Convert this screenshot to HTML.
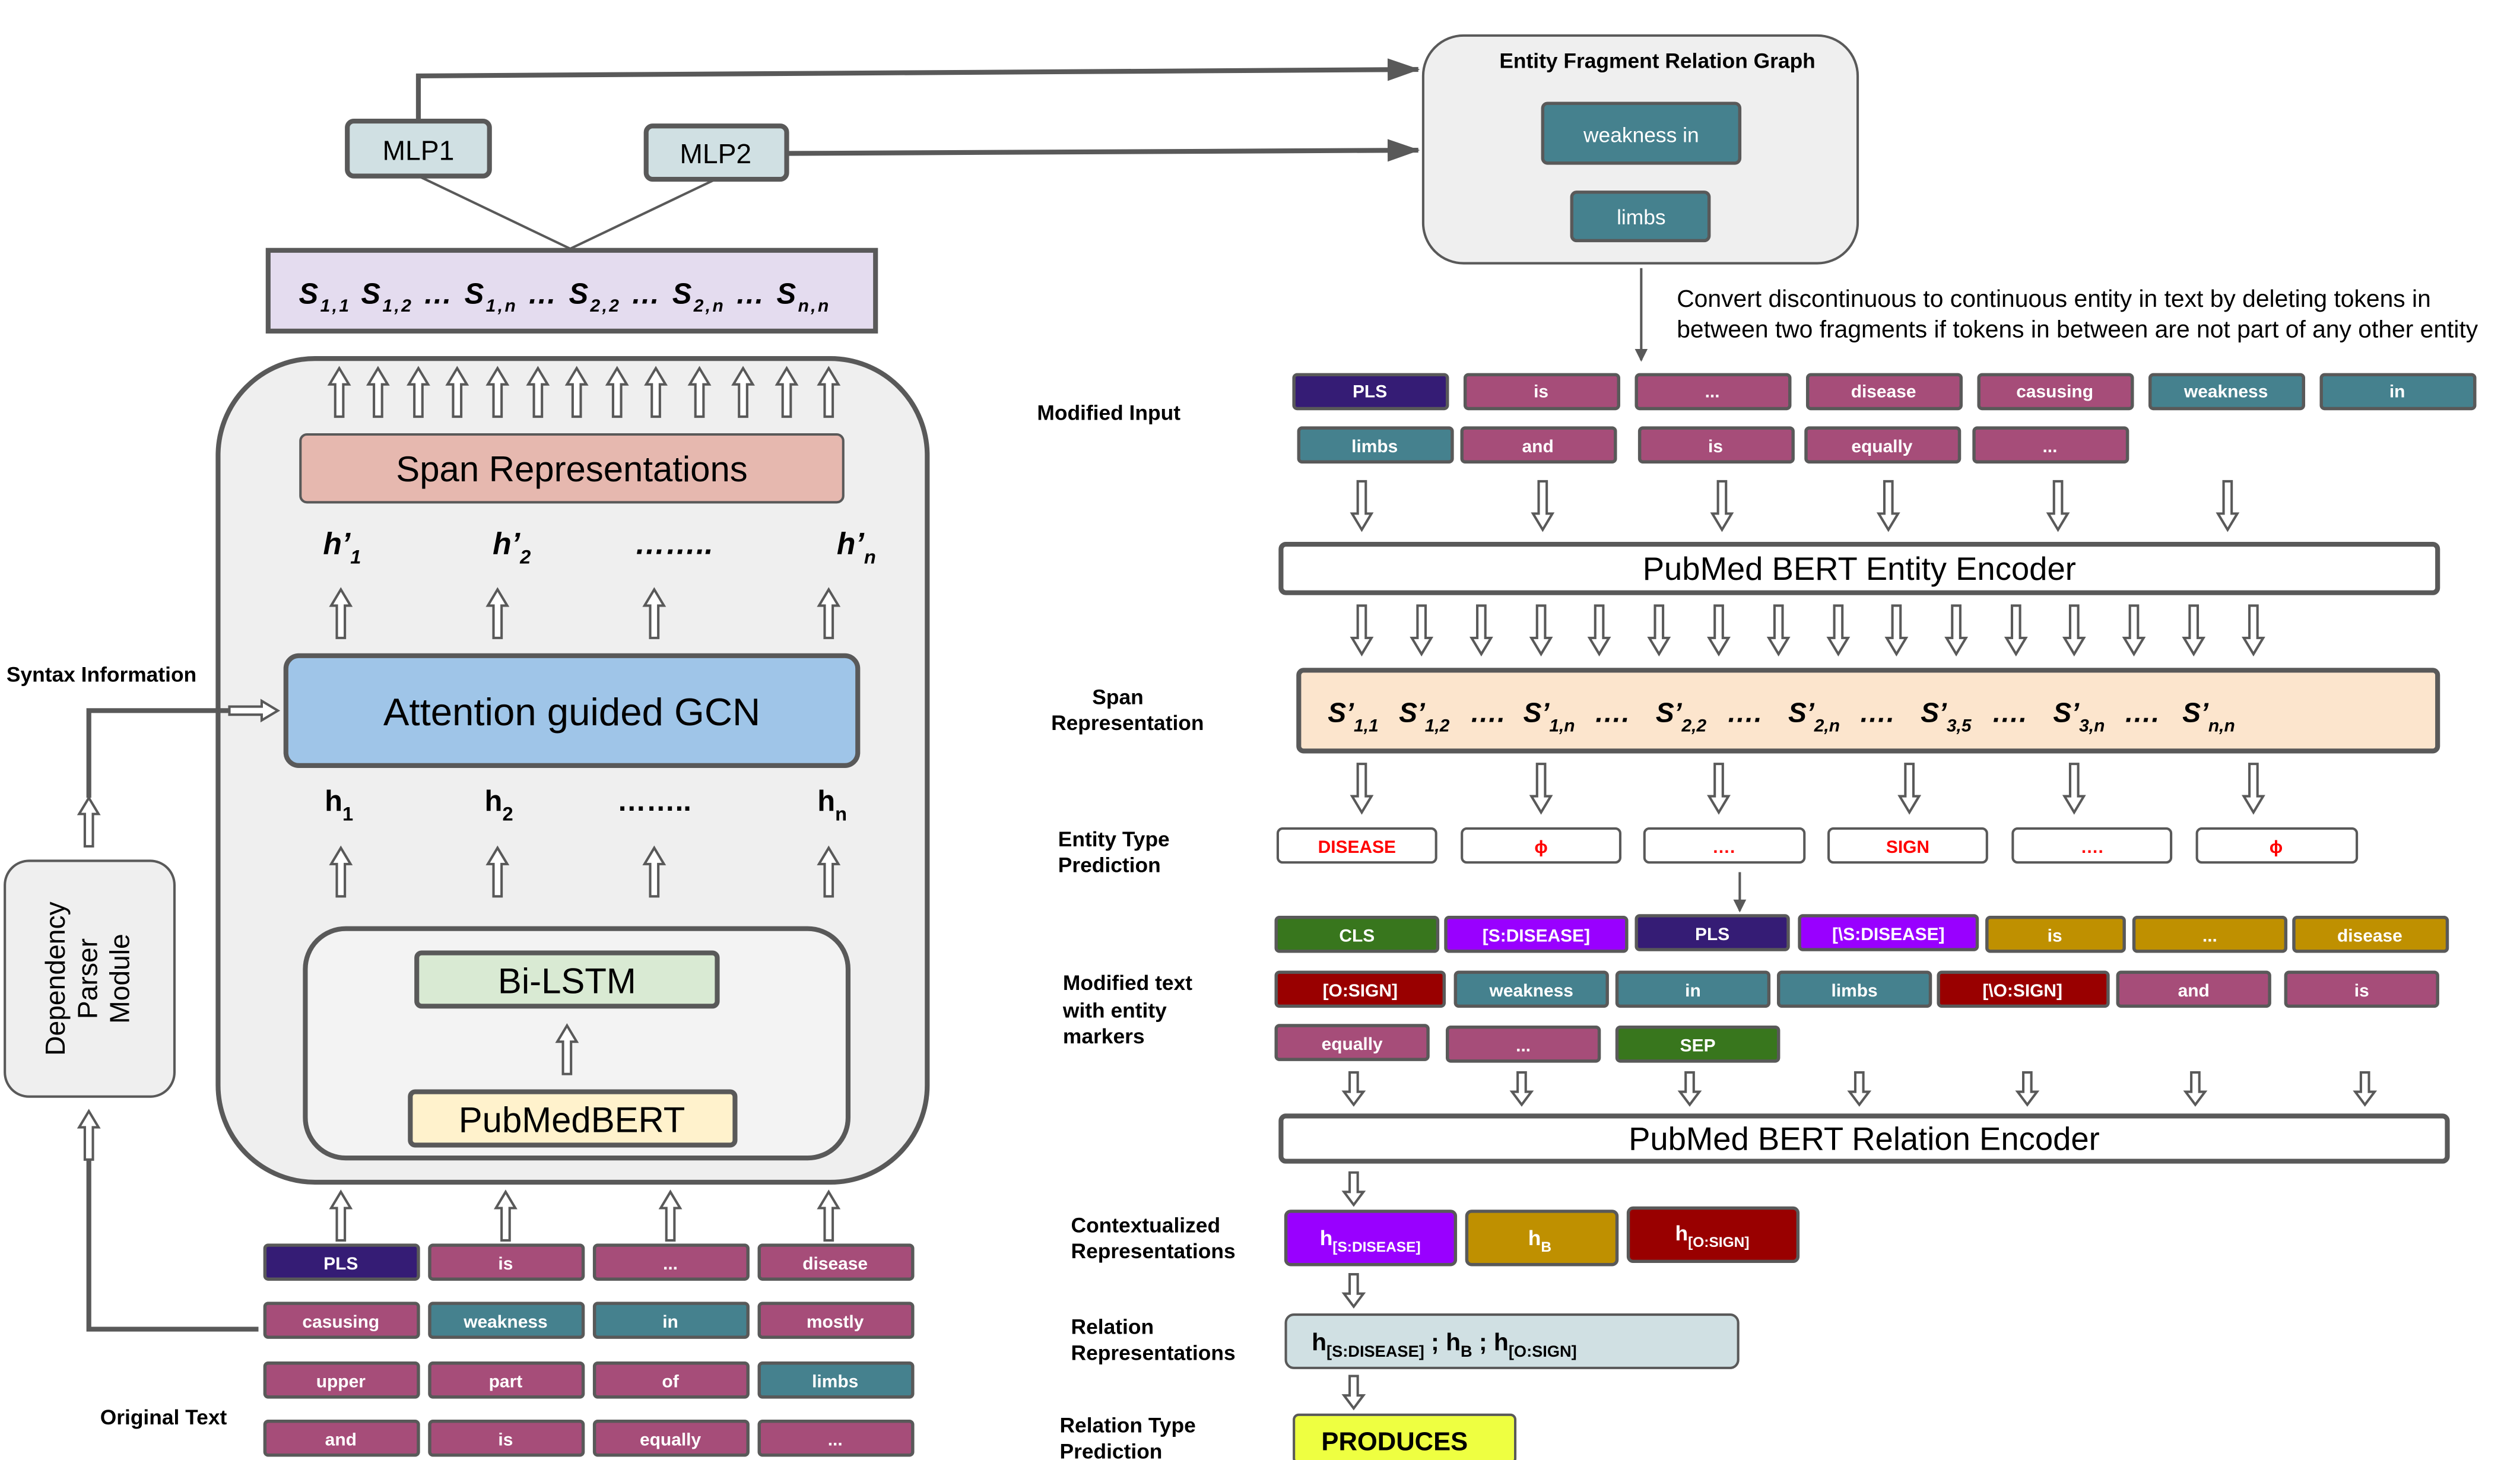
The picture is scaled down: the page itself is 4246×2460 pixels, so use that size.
<!DOCTYPE html>
<html><head><meta charset="utf-8"><style>
html,body{margin:0;padding:0;background:#fff;}
svg{display:block;}
text{font-family:"Liberation Sans",Arial,sans-serif;}
.t{fill:#fff;font-size:11px;font-weight:bold;text-anchor:middle;}
.lb{font-size:13px;font-weight:bold;fill:#000;}
</style></head><body>
<svg width="4246" height="2460" viewBox="0 0 1560 904" preserveAspectRatio="none" xmlns="http://www.w3.org/2000/svg">
<defs>
<g id="ua"><path d="M-2.5,30 L-2.5,10 L-6,10 L0,0 L6,10 L2.5,10 L2.5,30 Z" fill="#fff" stroke="#595959" stroke-width="1.5"/></g>
<g id="da"><path d="M-2.5,0 L-2.5,20 L-6,20 L0,30 L6,20 L2.5,20 L2.5,0 Z" fill="#fff" stroke="#595959" stroke-width="1.5"/></g>
<g id="da2"><path d="M-2.5,0 L-2.5,12 L-6,12 L0,20 L6,12 L2.5,12 L2.5,0 Z" fill="#fff" stroke="#595959" stroke-width="1.5"/></g>
<marker id="ah" markerWidth="8" markerHeight="8" refX="7" refY="4" orient="auto" markerUnits="userSpaceOnUse"><path d="M0,0 L8,4 L0,8 Z" fill="#595959"/></marker>
<marker id="ah2" markerWidth="20" markerHeight="14" refX="19" refY="7" orient="auto" markerUnits="userSpaceOnUse"><path d="M0,0 L20,7 L0,14 Z" fill="#595959"/></marker>
</defs>

<polyline points="259,75 259,47 878,43" fill="none" stroke="#595959" stroke-width="3" marker-end="url(#ah2)"/>
<line x1="487" y1="95" x2="878" y2="93" stroke="#595959" stroke-width="3" marker-end="url(#ah2)"/>
<line x1="259" y1="109" x2="353" y2="154" stroke="#595959" stroke-width="1.5"/>
<line x1="443" y1="111" x2="353" y2="154" stroke="#595959" stroke-width="1.5"/>
<rect x="215" y="75" width="88" height="34" rx="4" fill="#d0e0e3" stroke="#595959" stroke-width="3"/>
<text x="259" y="99" font-size="17" text-anchor="middle">MLP1</text>
<rect x="400" y="78" width="87" height="33" rx="4" fill="#d0e0e3" stroke="#595959" stroke-width="3"/>
<text x="443" y="101" font-size="17" text-anchor="middle">MLP2</text>

<rect x="166" y="155" width="376" height="50" fill="#e4dcef" stroke="#595959" stroke-width="3"/>
<text x="185" y="188" font-size="18" font-weight="bold" font-style="italic" textLength="328" lengthAdjust="spacing">S<tspan font-size="11" dy="5">1,1</tspan><tspan dy="-5"> S</tspan><tspan font-size="11" dy="5">1,2</tspan><tspan dy="-5"> … S</tspan><tspan font-size="11" dy="5">1,n</tspan><tspan dy="-5"> … S</tspan><tspan font-size="11" dy="5">2,2</tspan><tspan dy="-5"> … S</tspan><tspan font-size="11" dy="5">2,n</tspan><tspan dy="-5"> … S</tspan><tspan font-size="11" dy="5">n,n</tspan></text>

<rect x="135" y="222" width="439" height="510" rx="60" fill="#efefef" stroke="#595959" stroke-width="3"/>
<g>
<use href="#ua" x="210" y="228"/><use href="#ua" x="234" y="228"/><use href="#ua" x="259" y="228"/><use href="#ua" x="283" y="228"/><use href="#ua" x="308" y="228"/><use href="#ua" x="333" y="228"/><use href="#ua" x="357" y="228"/><use href="#ua" x="382" y="228"/><use href="#ua" x="406" y="228"/><use href="#ua" x="433" y="228"/><use href="#ua" x="460" y="228"/><use href="#ua" x="487" y="228"/><use href="#ua" x="513" y="228"/>
</g>
<rect x="186" y="269" width="336" height="42" rx="4" fill="#e6b8af" stroke="#595959" stroke-width="1.5"/>
<text x="354" y="298" font-size="22" text-anchor="middle">Span Representations</text>
<g font-size="19" font-weight="bold" font-style="italic">
<text x="200" y="343">h’<tspan font-size="12" dy="6">1</tspan></text>
<text x="305" y="343">h’<tspan font-size="12" dy="6">2</tspan></text>
<text x="393" y="343">……..</text>
<text x="518" y="343">h’<tspan font-size="12" dy="6">n</tspan></text>
</g>
<use href="#ua" x="211" y="365"/><use href="#ua" x="308" y="365"/><use href="#ua" x="405" y="365"/><use href="#ua" x="513" y="365"/>
<rect x="177" y="406" width="354" height="68" rx="8" fill="#9fc5e8" stroke="#595959" stroke-width="3"/>
<text x="354" y="449" font-size="24" text-anchor="middle">Attention guided GCN</text>
<g font-size="18" font-weight="bold">
<text x="201" y="502">h<tspan font-size="12" dy="6">1</tspan></text>
<text x="300" y="502">h<tspan font-size="12" dy="6">2</tspan></text>
<text x="382" y="502">……..</text>
<text x="506" y="502">h<tspan font-size="12" dy="6">n</tspan></text>
</g>
<use href="#ua" x="211" y="525"/><use href="#ua" x="308" y="525"/><use href="#ua" x="405" y="525"/><use href="#ua" x="513" y="525"/>
<rect x="189" y="575" width="336" height="142" rx="25" fill="#f3f3f3" stroke="#595959" stroke-width="3"/>
<rect x="258" y="590" width="186" height="33" rx="3" fill="#d9ead3" stroke="#595959" stroke-width="3"/>
<text x="351" y="615" font-size="22" text-anchor="middle">Bi-LSTM</text>
<use href="#ua" x="351" y="635"/>
<rect x="254" y="676" width="201" height="33" rx="3" fill="#fff2cc" stroke="#595959" stroke-width="3"/>
<text x="354" y="701" font-size="22" text-anchor="middle">PubMedBERT</text>
<use href="#ua" x="211" y="738"/><use href="#ua" x="313" y="738"/><use href="#ua" x="415" y="738"/><use href="#ua" x="513" y="738"/>

<g stroke="#595959" stroke-width="2">
<rect x="164" y="771" width="95" height="21" rx="2" fill="#351c75"/><rect x="266" y="771" width="95" height="21" rx="2" fill="#a64d79"/><rect x="368" y="771" width="95" height="21" rx="2" fill="#a64d79"/><rect x="470" y="771" width="95" height="21" rx="2" fill="#a64d79"/>
<rect x="164" y="807" width="95" height="21" rx="2" fill="#a64d79"/><rect x="266" y="807" width="95" height="21" rx="2" fill="#45818e"/><rect x="368" y="807" width="95" height="21" rx="2" fill="#45818e"/><rect x="470" y="807" width="95" height="21" rx="2" fill="#a64d79"/>
<rect x="164" y="844" width="95" height="21" rx="2" fill="#a64d79"/><rect x="266" y="844" width="95" height="21" rx="2" fill="#a64d79"/><rect x="368" y="844" width="95" height="21" rx="2" fill="#a64d79"/><rect x="470" y="844" width="95" height="21" rx="2" fill="#45818e"/>
<rect x="164" y="880" width="95" height="21" rx="2" fill="#a64d79"/><rect x="266" y="880" width="95" height="21" rx="2" fill="#a64d79"/><rect x="368" y="880" width="95" height="21" rx="2" fill="#a64d79"/><rect x="470" y="880" width="95" height="21" rx="2" fill="#a64d79"/>
</g>
<g class="t">
<text x="211" y="786">PLS</text><text x="313" y="786">is</text><text x="415" y="786">...</text><text x="517" y="786">disease</text>
<text x="211" y="822">casusing</text><text x="313" y="822">weakness</text><text x="415" y="822">in</text><text x="517" y="822">mostly</text>
<text x="211" y="859">upper</text><text x="313" y="859">part</text><text x="415" y="859">of</text><text x="517" y="859">limbs</text>
<text x="211" y="895">and</text><text x="313" y="895">is</text><text x="415" y="895">equally</text><text x="517" y="895">...</text>
</g>
<text x="62" y="882" class="lb">Original Text</text>

<rect x="3" y="533" width="105" height="146" rx="15" fill="#efefef" stroke="#595959" stroke-width="1.5"/>
<g transform="translate(56,606) rotate(-90)" font-size="17" text-anchor="middle">
<text x="0" y="-16">Dependency</text><text x="0" y="4">Parser</text><text x="0" y="24">Module</text>
</g>
<polyline points="160,823 55,823 55,715" fill="none" stroke="#595959" stroke-width="3"/>
<use href="#ua" x="55" y="688"/>
<use href="#ua" x="55" y="494"/>
<polyline points="55,494 55,440 142,440" fill="none" stroke="#595959" stroke-width="3"/>
<path d="M142,437.5 L162,437.5 L162,434 L172,440 L162,446 L162,442.5 L142,442.5 Z" fill="#fff" stroke="#595959" stroke-width="1.5"/>
<text x="4" y="422" class="lb">Syntax  Information</text>

<rect x="881" y="22" width="269" height="141" rx="25" fill="#efefef" stroke="#595959" stroke-width="1.5"/>
<text x="1026" y="42" class="lb" text-anchor="middle">Entity Fragment Relation Graph</text>
<rect x="955" y="64" width="122" height="37" rx="3" fill="#45818e" stroke="#595959" stroke-width="2"/>
<text x="1016" y="88" font-size="13" fill="#fff" text-anchor="middle">weakness in</text>
<rect x="973" y="119" width="85" height="30" rx="3" fill="#45818e" stroke="#595959" stroke-width="2"/>
<text x="1016" y="139" font-size="13" fill="#fff" text-anchor="middle">limbs</text>
<line x1="1016" y1="166" x2="1016" y2="223" stroke="#595959" stroke-width="1.5" marker-end="url(#ah)"/>
<text x="1038" y="190" font-size="15">Convert discontinuous to continuous entity in text by deleting tokens in</text>
<text x="1038" y="209" font-size="15">between two fragments if tokens in between are not part of any other entity</text>

<text x="642" y="260" class="lb">Modified Input</text>
<g stroke="#595959" stroke-width="2">
<rect x="801" y="232" width="95" height="21" rx="2" fill="#351c75"/><rect x="907" y="232" width="95" height="21" rx="2" fill="#a64d79"/><rect x="1013" y="232" width="95" height="21" rx="2" fill="#a64d79"/><rect x="1119" y="232" width="95" height="21" rx="2" fill="#a64d79"/><rect x="1225" y="232" width="95" height="21" rx="2" fill="#a64d79"/><rect x="1331" y="232" width="95" height="21" rx="2" fill="#45818e"/><rect x="1437" y="232" width="95" height="21" rx="2" fill="#45818e"/>
<rect x="804" y="265" width="95" height="21" rx="2" fill="#45818e"/><rect x="905" y="265" width="95" height="21" rx="2" fill="#a64d79"/><rect x="1015" y="265" width="95" height="21" rx="2" fill="#a64d79"/><rect x="1118" y="265" width="95" height="21" rx="2" fill="#a64d79"/><rect x="1222" y="265" width="95" height="21" rx="2" fill="#a64d79"/>
</g>
<g class="t">
<text x="848" y="246">PLS</text><text x="954" y="246">is</text><text x="1060" y="246">...</text><text x="1166" y="246">disease</text><text x="1272" y="246">casusing</text><text x="1378" y="246">weakness</text><text x="1484" y="246">in</text>
<text x="851" y="280">limbs</text><text x="952" y="280">and</text><text x="1062" y="280">is</text><text x="1165" y="280">equally</text><text x="1269" y="280">...</text>
</g>
<use href="#da" x="843" y="298"/><use href="#da" x="955" y="298"/><use href="#da" x="1066" y="298"/><use href="#da" x="1169" y="298"/><use href="#da" x="1274" y="298"/><use href="#da" x="1379" y="298"/>
<rect x="793" y="337" width="716" height="30" rx="3" fill="#fff" stroke="#595959" stroke-width="3"/>
<text x="1151" y="359" font-size="20" text-anchor="middle">PubMed BERT Entity Encoder</text>
<g>
<use href="#da" x="843" y="375"/><use href="#da" x="880" y="375"/><use href="#da" x="917" y="375"/><use href="#da" x="954" y="375"/><use href="#da" x="990" y="375"/><use href="#da" x="1027" y="375"/><use href="#da" x="1064" y="375"/><use href="#da" x="1101" y="375"/><use href="#da" x="1138" y="375"/><use href="#da" x="1174" y="375"/><use href="#da" x="1211" y="375"/><use href="#da" x="1248" y="375"/><use href="#da" x="1284" y="375"/><use href="#da" x="1321" y="375"/><use href="#da" x="1358" y="375"/><use href="#da" x="1395" y="375"/>
</g>
<rect x="804" y="415" width="705" height="50" rx="3" fill="#fce5cd" stroke="#595959" stroke-width="3"/>
<g font-size="17" font-weight="bold" font-style="italic">
<text x="822" y="447">S’<tspan font-size="11" dy="6">1,1</tspan></text>
<text x="866" y="447">S’<tspan font-size="11" dy="6">1,2</tspan></text>
<text x="910" y="447">….</text>
<text x="943" y="447">S’<tspan font-size="11" dy="6">1,n</tspan></text>
<text x="987" y="447">….</text>
<text x="1025" y="447">S’<tspan font-size="11" dy="6">2,2</tspan></text>
<text x="1069" y="447">….</text>
<text x="1107" y="447">S’<tspan font-size="11" dy="6">2,n</tspan></text>
<text x="1151" y="447">….</text>
<text x="1189" y="447">S’<tspan font-size="11" dy="6">3,5</tspan></text>
<text x="1233" y="447">….</text>
<text x="1271" y="447">S’<tspan font-size="11" dy="6">3,n</tspan></text>
<text x="1315" y="447">….</text>
<text x="1351" y="447">S’<tspan font-size="11" dy="6">n,n</tspan></text>
</g>
<text x="692" y="436" class="lb" text-anchor="middle">Span</text>
<text x="698" y="452" class="lb" text-anchor="middle">Representation</text>
<use href="#da" x="843" y="473"/><use href="#da" x="954" y="473"/><use href="#da" x="1064" y="473"/><use href="#da" x="1182" y="473"/><use href="#da" x="1284" y="473"/><use href="#da" x="1395" y="473"/>
<g fill="#fff" stroke="#595959" stroke-width="1.5">
<rect x="791" y="513" width="98" height="21" rx="3"/><rect x="905" y="513" width="98" height="21" rx="3"/><rect x="1018" y="513" width="99" height="21" rx="3"/><rect x="1132" y="513" width="98" height="21" rx="3"/><rect x="1246" y="513" width="98" height="21" rx="3"/><rect x="1360" y="513" width="99" height="21" rx="3"/>
</g>
<g font-size="11" fill="#ff0000" font-weight="bold" text-anchor="middle">
<text x="840" y="528">DISEASE</text><text x="954" y="528">ϕ</text><text x="1067" y="528">….</text><text x="1181" y="528">SIGN</text><text x="1295" y="528">….</text><text x="1409" y="528">ϕ</text>
</g>
<text x="655" y="524" class="lb">Entity Type</text>
<text x="655" y="540" class="lb">Prediction</text>
<line x1="1077" y1="540" x2="1077" y2="564" stroke="#595959" stroke-width="1.5" marker-end="url(#ah)"/>

<g stroke="#595959" stroke-width="2">
<rect x="790" y="568" width="100" height="21" rx="2" fill="#38761d"/><rect x="895" y="568" width="112" height="21" rx="2" fill="#9900ff"/><rect x="1013" y="567" width="94" height="21" rx="2" fill="#351c75"/><rect x="1114" y="567" width="110" height="21" rx="2" fill="#9900ff"/><rect x="1230" y="568" width="85" height="21" rx="2" fill="#bf9000"/><rect x="1321" y="568" width="94" height="21" rx="2" fill="#bf9000"/><rect x="1420" y="568" width="95" height="21" rx="2" fill="#bf9000"/>
<rect x="790" y="602" width="104" height="21" rx="2" fill="#990000"/><rect x="901" y="602" width="94" height="21" rx="2" fill="#45818e"/><rect x="1001" y="602" width="94" height="21" rx="2" fill="#45818e"/><rect x="1101" y="602" width="94" height="21" rx="2" fill="#45818e"/><rect x="1200" y="602" width="105" height="21" rx="2" fill="#990000"/><rect x="1311" y="602" width="94" height="21" rx="2" fill="#a64d79"/><rect x="1415" y="602" width="94" height="21" rx="2" fill="#a64d79"/>
<rect x="790" y="635" width="94" height="21" rx="2" fill="#a64d79"/><rect x="896" y="636" width="94" height="21" rx="2" fill="#a64d79"/><rect x="1001" y="636" width="100" height="21" rx="2" fill="#38761d"/>
</g>
<g class="t">
<text x="840" y="583">CLS</text><text x="951" y="583">[S:DISEASE]</text><text x="1060" y="582">PLS</text><text x="1169" y="582">[\S:DISEASE]</text><text x="1272" y="583">is</text><text x="1368" y="583">...</text><text x="1467" y="583">disease</text>
<text x="842" y="617">[O:SIGN]</text><text x="948" y="617">weakness</text><text x="1048" y="617">in</text><text x="1148" y="617">limbs</text><text x="1252" y="617">[\O:SIGN]</text><text x="1358" y="617">and</text><text x="1462" y="617">is</text>
<text x="837" y="650">equally</text><text x="943" y="651">...</text><text x="1051" y="651">SEP</text>
</g>
<text x="658" y="613" class="lb">Modified text</text>
<text x="658" y="630" class="lb">with entity</text>
<text x="658" y="646" class="lb">markers</text>
<use href="#da2" x="838" y="664"/><use href="#da2" x="942" y="664"/><use href="#da2" x="1046" y="664"/><use href="#da2" x="1151" y="664"/><use href="#da2" x="1255" y="664"/><use href="#da2" x="1359" y="664"/><use href="#da2" x="1464" y="664"/>
<rect x="793" y="691" width="722" height="28" rx="3" fill="#fff" stroke="#595959" stroke-width="3"/>
<text x="1154" y="712" font-size="20" text-anchor="middle">PubMed BERT Relation Encoder</text>
<use href="#da2" x="838" y="726"/>
<rect x="796" y="750" width="105" height="33" rx="3" fill="#9900ff" stroke="#595959" stroke-width="2"/>
<rect x="908" y="750" width="93" height="33" rx="3" fill="#bf9000" stroke="#595959" stroke-width="2"/>
<rect x="1008" y="748" width="105" height="33" rx="3" fill="#990000" stroke="#595959" stroke-width="2"/>
<g fill="#fff" font-size="13" font-weight="bold">
<text x="817" y="771">h<tspan font-size="9" dy="4">[S:DISEASE]</tspan></text>
<text x="946" y="771">h<tspan font-size="9" dy="4">B</tspan></text>
<text x="1037" y="768">h<tspan font-size="9" dy="4">[O:SIGN]</tspan></text>
</g>
<text x="663" y="763" class="lb">Contextualized</text>
<text x="663" y="779" class="lb">Representations</text>
<use href="#da2" x="838" y="789"/>
<rect x="796" y="814" width="280" height="33" rx="5" fill="#d0e0e3" stroke="#595959" stroke-width="1.5"/>
<text x="812" y="836" font-size="15" font-weight="bold">h<tspan font-size="10" dy="4">[S:DISEASE]</tspan><tspan dy="-4"> ; h</tspan><tspan font-size="10" dy="4">B</tspan><tspan dy="-4"> ; h</tspan><tspan font-size="10" dy="4">[O:SIGN]</tspan></text>
<text x="663" y="826" class="lb">Relation</text>
<text x="663" y="842" class="lb">Representations</text>
<use href="#da2" x="838" y="852"/>
<rect x="801" y="876" width="137" height="30" rx="3" fill="#eeff41" stroke="#595959" stroke-width="1.5"/>
<text x="818" y="898" font-size="16" font-weight="bold">PRODUCES</text>
<text x="656" y="887" class="lb">Relation Type</text>
<text x="656" y="903" class="lb">Prediction</text>
</svg>
</body></html>
